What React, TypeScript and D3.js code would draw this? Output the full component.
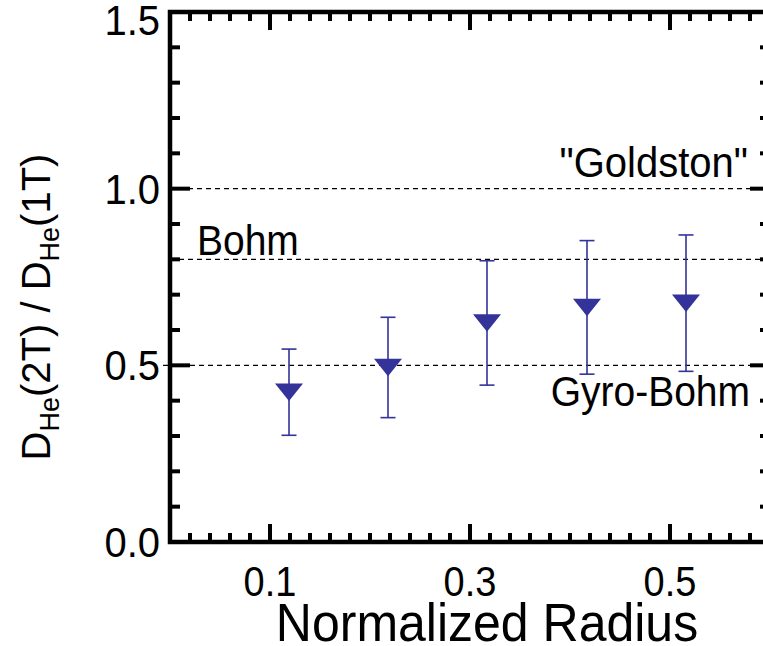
import React from "react";
import * as d3 from "d3";

// Normalized radius of each measurement
const radius = [0.119, 0.218, 0.317, 0.417, 0.516];
// Ratio D_He(2T) / D_He(1T)
const ratio = [0.424, 0.494, 0.62, 0.664, 0.676];
// Symmetric uncertainty on the ratio
const ratioErr = [0.122, 0.142, 0.176, 0.189, 0.193];

// Reference scaling lines
const refValues = [1.0, 0.8, 0.5];
const refNames = ['"Goldston"', "Bohm", "Gyro-Bohm"];

const xTickLabels = [0.1, 0.3, 0.5];
const yTickLabels = [0.0, 0.5, 1.0, 1.5];

const W = 763;
const H = 646;
const FONT = "'Liberation Sans', Arial, Helvetica, sans-serif";
const BLUE = "#333399";

// Text with a slight vertical stretch, positioned at its baseline anchor
function T(props: {
  x: number;
  y: number;
  size: number;
  anchor?: "start" | "middle" | "end";
  sy?: number;
  children: React.ReactNode;
}) {
  const { x, y, size, anchor = "start", sy = 1.07, children } = props;
  return (
    <text
      transform={`translate(${x},${y}) scale(1,${sy})`}
      fontFamily={FONT}
      fontSize={size}
      textAnchor={anchor}
      fill="#000"
    >
      {children}
    </text>
  );
}

export default function App() {
  const x = d3.scaleLinear().domain([0, 0.6]).range([170, 770]);
  const y = d3.scaleLinear().domain([0, 1.5]).range([542, 12]);

  const [x0, x1] = x.range();
  const [yb, yt] = y.range();

  const xMinor = d3.range(0, 31).map((i) => +(i * 0.02).toFixed(2));
  const yMinor = d3.range(0, 16).map((i) => +(i * 0.1).toFixed(1));
  const isXMajor = (v: number) => xTickLabels.some((t) => Math.abs(t - v) < 1e-6);
  const isYMajor = (v: number) => yTickLabels.some((t) => Math.abs(t - v) < 1e-6);

  // downward-pointing triangle marker centred on the data point
  const triPath = (cx: number, cy: number) => {
    const w = 28;
    const h = 17.5;
    const p = d3.path();
    p.moveTo(cx - w / 2, cy - h / 2);
    p.lineTo(cx + w / 2, cy - h / 2);
    p.lineTo(cx, cy + h / 2);
    p.closePath();
    return p.toString();
  };

  const fmt = d3.format(".1f");

  return (
    <svg width={W} height={H} style={{ display: "block", position: "absolute", left: 0, top: 0 }}>
      <rect x={0} y={0} width={W} height={H} fill="#fff" />

      {/* reference lines */}
      {refValues.map((v, i) => (
        <line
          key={"ref" + i}
          x1={v === 0.5 ? x0 - 7 : x0}
          x2={x1}
          y1={y(v)}
          y2={y(v)}
          stroke="#000"
          strokeWidth={1.3}
          strokeDasharray="5,4"
        />
      ))}

      {/* x ticks, bottom and top */}
      {xMinor.map((v) => {
        const len = isXMajor(v) ? 18 : 9;
        return (
          <g key={"xt" + v}>
            <line x1={x(v)} x2={x(v)} y1={yb} y2={yb - len} stroke="#000" strokeWidth={4} />
            <line x1={x(v)} x2={x(v)} y1={yt} y2={yt + len} stroke="#000" strokeWidth={4} />
          </g>
        );
      })}

      {/* y ticks, left and right */}
      {yMinor.map((v) => {
        const len = isYMajor(v) ? 20 : 10;
        return (
          <g key={"yt" + v}>
            <line x1={x0} x2={x0 + len} y1={y(v)} y2={y(v)} stroke="#000" strokeWidth={4} />
            <line x1={x1} x2={x1 - len} y1={y(v)} y2={y(v)} stroke="#000" strokeWidth={4} />
          </g>
        );
      })}

      {/* frame */}
      <rect
        x={x0}
        y={yt}
        width={x1 - x0}
        height={yb - yt}
        fill="none"
        stroke="#000"
        strokeWidth={4.5}
      />

      {/* error bars */}
      {radius.map((r, i) => {
        const cx = x(r);
        const top = y(ratio[i] + ratioErr[i]);
        const bot = y(ratio[i] - ratioErr[i]);
        return (
          <g key={"eb" + i} stroke={BLUE} strokeWidth={1.6}>
            <line x1={cx} x2={cx} y1={top} y2={bot} />
            <line x1={cx - 7.5} x2={cx + 7.5} y1={top} y2={top} />
            <line x1={cx - 7.5} x2={cx + 7.5} y1={bot} y2={bot} />
          </g>
        );
      })}

      {/* markers */}
      {radius.map((r, i) => (
        <path key={"m" + i} d={triPath(x(r), y(ratio[i]))} fill={BLUE} />
      ))}

      {/* reference line labels */}
      <T x={748} y={y(refValues[0]) - 12} size={40} anchor="end">
        {refNames[0]}
      </T>
      <T x={197} y={y(refValues[1]) - 4} size={39} anchor="start">
        {refNames[1]}
      </T>
      <T x={750} y={y(refValues[2]) + 41} size={39} anchor="end">
        {refNames[2]}
      </T>

      {/* x tick labels */}
      {xTickLabels.map((v) => (
        <T key={"xl" + v} x={x(v)} y={596} size={38} anchor="middle" sy={1.1}>
          {fmt(v)}
        </T>
      ))}

      {/* y tick labels */}
      {yTickLabels.map((v) => (
        <T key={"yl" + v} x={160} y={Math.max(y(v), 20) + 15} size={40} anchor="end" sy={1.05}>
          {fmt(v)}
        </T>
      ))}

      {/* axis titles */}
      <T x={487} y={641} size={50} anchor="middle" sy={1.06}>
        Normalized Radius
      </T>

      <text
        transform={`translate(50, 307) rotate(-90)`}
        fontFamily={FONT}
        fontSize={40}
        textAnchor="middle"
        fill="#000"
      >
        <tspan>D</tspan>
        <tspan fontSize={27} dy={9}>He</tspan>
        <tspan dy={-9}>(2T) / D</tspan>
        <tspan fontSize={27} dy={9}>He</tspan>
        <tspan dy={-9}>(1T)</tspan>
      </text>
    </svg>
  );
}
